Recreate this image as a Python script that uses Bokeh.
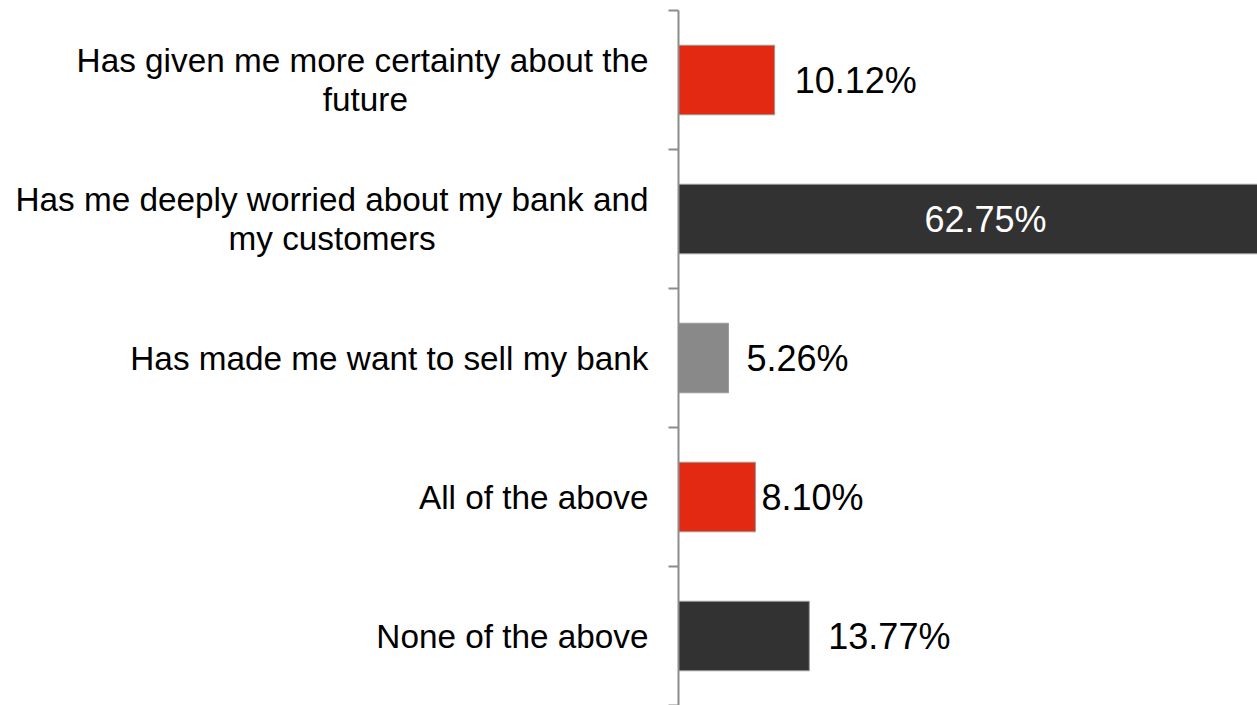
from bokeh.plotting import figure
from bokeh.models import ColumnDataSource, Range1d, LinearAxis, FixedTicker
from bokeh.core.properties import value
from bokeh.embed import file_html
from bokeh.resources import INLINE

# ---- data ----
categories = [
    ["Has given me more certainty about the", "future"],
    ["Has me deeply worried about my bank and", "my customers"],
    ["Has made me want to sell my bank"],
    ["All of the above"],
    ["None of the above"],
]
percentages = [10.12, 62.75, 5.26, 8.10, 13.77]
value_labels = ["10.12%", "62.75%", "5.26%", "8.10%", "13.77%"]

# ---- styles ----
bar_colors = ["#E32912", "#323232", "#898989", "#E32912", "#323232"]
label_gap_px = [20, 9, 18, 6, 19]
FONT = "Liberation Sans"
LABEL_PX = 33.3

# Liberation Sans (Arial-metric) advance widths, per 1000 em, used to centre
# the second line of a wrapped category label under its first line.
_W = {" ": 278, "a": 556, "b": 556, "c": 500, "d": 556, "e": 556, "f": 278, "g": 556,
      "h": 556, "i": 222, "k": 500, "l": 222, "m": 833, "n": 556, "o": 556, "p": 556,
      "r": 333, "s": 500, "t": 278, "u": 556, "v": 500, "w": 722, "y": 500, "H": 722,
      "A": 667, "N": 722}


def _em(s):
    return sum(_W.get(ch, 556) for ch in s) / 1000.0


def wrapped(lines):
    if len(lines) == 1:
        return lines[0]
    first, *rest = lines
    out = [first]
    for ln in rest:
        pad = round((_em(first) - _em(ln)) / 2 / 0.278)
        out.append(ln + "\u00a0" * pad)
    return "\n".join(out)


n = len(categories)
# categories top to bottom: centres at odd integers, boundaries at even integers
centres = [2 * (n - i) - 1 for i in range(n)]
boundaries = list(range(0, 2 * n + 1, 2))

inside = [v > 50 for v in percentages]
label_x = [v / 2 if ins else v for v, ins in zip(percentages, inside)]
label_align = ["center" if ins else "left" for ins in inside]
label_color = ["#ffffff" if ins else "#000000" for ins in inside]

src = ColumnDataSource(dict(
    y=centres, value=percentages, color=bar_colors, text=value_labels,
    lx=label_x, align=label_align, tcolor=label_color, off=label_gap_px,
))

p = figure(width=1257, height=705, output_backend="svg", toolbar_location=None,
           x_range=Range1d(0, 60.95), y_range=Range1d(0, 2 * n),
           min_border_left=678, min_border_right=0, min_border_top=10, min_border_bottom=0,
           x_axis_type=None, y_axis_type=None)
p.outline_line_color = None
p.xgrid.visible = False
p.ygrid.visible = False
p.background_fill_color = "white"

p.hbar(y="y", left=0, right="value", height=1.0, source=src,
       fill_color="color", line_color="#9a9a9a", line_width=1)

p.text(x="lx", y="y", text="text", source=src, x_offset="off",
       text_align="align", text_baseline="middle", text_color="tcolor",
       text_font=value(FONT), text_font_size="36px")

tick_axis = LinearAxis(ticker=FixedTicker(ticks=boundaries, minor_ticks=[]),
                       major_label_overrides={b: "" for b in boundaries})
tick_axis.major_label_text_color = None
tick_axis.major_label_standoff = 0
tick_axis.axis_line_color = "#8c8c8c"
tick_axis.axis_line_width = 2
tick_axis.major_tick_line_color = "#8c8c8c"
tick_axis.major_tick_line_width = 2
tick_axis.major_tick_out = 10
tick_axis.major_tick_in = 0
tick_axis.minor_tick_line_color = None
p.add_layout(tick_axis, "left")

label_axis = LinearAxis(ticker=FixedTicker(ticks=centres, minor_ticks=[]),
                        major_label_overrides={c: wrapped(cat) for c, cat in zip(centres, categories)})
label_axis.axis_line_color = None
label_axis.major_tick_line_color = None
label_axis.minor_tick_line_color = None
label_axis.major_tick_out = 0
label_axis.major_tick_in = 0
label_axis.major_label_standoff = 20
label_axis.major_label_text_font = FONT
label_axis.major_label_text_font_size = f"{LABEL_PX}px"
label_axis.major_label_text_line_height = 1.07
label_axis.major_label_text_color = "#000000"
p.add_layout(label_axis, "left")

open("out.html", "w").write(file_html(p, INLINE))
